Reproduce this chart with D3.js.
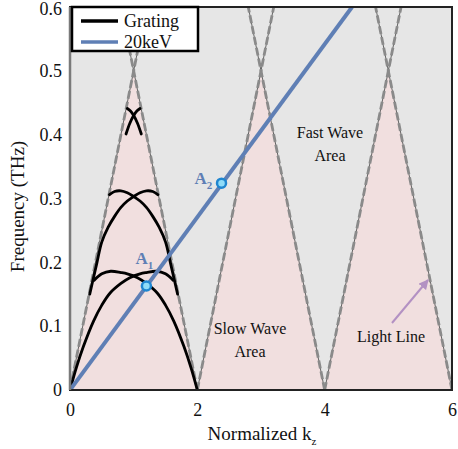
<!DOCTYPE html>
<html>
<head>
<meta charset="utf-8">
<script src="https://cdn.jsdelivr.net/npm/d3@7"></script>
<style>
    body { margin: 0; background: white; }
    svg text { font-family: "Liberation Serif", "DejaVu Serif", serif !important; }
</style>
</head>
<body>
<svg id="chart" width="458" height="449"></svg>
<script>
// axis ticks
const xTicks = [0, 2, 4, 6];
const yTicks = [0, 0.1, 0.2, 0.3, 0.4, 0.5, 0.6];

// light line: zero points and apex frequency
const lightLineZeros = [0, 2, 4, 6];
const lightApex = 0.5;
const lightTop = 0.6;

// slow wave triangles (k start, apex k, k end)
const slowTriangles = [[0, 1, 2], [2, 3, 4], [4, 5, 6]];

// 20keV electron beam line
const beamLine = [[0, 0], [4.43, 0.6]];

// grating dispersion curves [k, f]
const gratingS = [[0, 0], [0.1, 0.035], [0.21, 0.068], [0.37, 0.108], [0.5, 0.133], [0.63, 0.152], [0.8, 0.167],
    [0.94, 0.176], [1.1, 0.182], [1.2, 0.184], [1.36, 0.186], [1.5, 0.182], [1.62, 0.172]];
const gratingT = [[2, 0], [1.9, 0.035], [1.79, 0.068], [1.63, 0.108], [1.5, 0.133], [1.37, 0.152], [1.2, 0.167],
    [1.06, 0.176], [0.9, 0.182], [0.8, 0.184], [0.64, 0.186], [0.5, 0.182], [0.38, 0.172]];
const gratingP = [[1.38, 0.306], [1.3, 0.311], [1.2, 0.312], [1.1, 0.309], [1.0, 0.303], [0.9, 0.296], [0.8, 0.286],
    [0.7, 0.272], [0.6, 0.255], [0.5, 0.232], [0.42, 0.198], [0.36, 0.172], [0.31, 0.15]];
const gratingQ = [[0.62, 0.306], [0.7, 0.311], [0.8, 0.312], [0.9, 0.309], [1.0, 0.303], [1.1, 0.296], [1.2, 0.286],
    [1.3, 0.272], [1.4, 0.255], [1.5, 0.232], [1.58, 0.198], [1.64, 0.172], [1.69, 0.15]];
const gratingU = [[0.9, 0.441], [0.95, 0.437], [1.0, 0.43], [1.06, 0.418], [1.12, 0.401]];
const gratingV = [[1.1, 0.441], [1.05, 0.437], [1.0, 0.43], [0.94, 0.418], [0.88, 0.401]];
const gratingCurves = [gratingS, gratingT, gratingP, gratingQ, gratingU, gratingV];

// interaction points
const points = [
    {name: "A", sub: "1", k: 1.2, f: 0.163},
    {name: "A", sub: "2", k: 2.38, f: 0.324}
];

const margin = {left: 70, top: 7, right: 5, bottom: 59};
const width = 458, height = 449;
const serif = '"Liberation Serif", serif';

const svg = d3.select("#chart");

const x = d3.scaleLinear().domain([0, 6]).range([margin.left, width - margin.right - 1]);
const y = d3.scaleLinear().domain([0, 0.6]).range([height - margin.bottom, margin.top]);

const line = d3.line().x(d => x(d[0])).y(d => y(d[1]));
const curve = d3.line().x(d => x(d[0])).y(d => y(d[1])).curve(d3.curveCatmullRom);

svg.append("clipPath")
    .attr("id", "plotClip")
    .append("rect")
    .attr("x", x(0)).attr("y", y(0.6))
    .attr("width", x(6) - x(0)).attr("height", y(0) - y(0.6));

// fast wave background
svg.append("rect")
    .attr("x", x(0)).attr("y", y(0.6))
    .attr("width", x(6) - x(0)).attr("height", y(0) - y(0.6))
    .attr("fill", "#e6e6e6");

const plot = svg.append("g").attr("clip-path", "url(#plotClip)");

// slow wave areas
plot.selectAll(".slow")
    .data(slowTriangles)
    .enter()
    .append("path")
    .attr("class", "slow")
    .attr("d", d => line([[d[0], 0], [d[1], lightApex], [d[2], 0]]) + "Z")
    .attr("fill", "#f1dfdf");

// light lines going up both ways from each zero
const lightSegs = [];
lightLineZeros.forEach(k0 => {
    const dk = lightTop / lightApex;
    lightSegs.push([[k0, 0], [k0 - dk, lightTop]]);
    lightSegs.push([[k0, 0], [k0 + dk, lightTop]]);
});

plot.selectAll(".lightCore")
    .data(lightSegs)
    .enter()
    .append("path")
    .attr("d", line)
    .attr("fill", "none")
    .attr("stroke", "#555")
    .attr("stroke-width", 0.9);

plot.selectAll(".lightDash")
    .data(lightSegs)
    .enter()
    .append("path")
    .attr("d", line)
    .attr("fill", "none")
    .attr("stroke", "#8a8a8a")
    .attr("stroke-width", 2.8)
    .attr("stroke-dasharray", "8,3");

// grating curves
plot.selectAll(".grating")
    .data(gratingCurves)
    .enter()
    .append("path")
    .attr("d", curve)
    .attr("fill", "none")
    .attr("stroke", "black")
    .attr("stroke-width", 2.8)
    .attr("stroke-linecap", "round");

// beam line
plot.append("path")
    .attr("d", line(beamLine))
    .attr("fill", "none")
    .attr("stroke", "#5f7fb5")
    .attr("stroke-width", 4);

// frame
svg.append("rect")
    .attr("x", x(0)).attr("y", y(0.6))
    .attr("width", x(6) - x(0)).attr("height", y(0) - y(0.6))
    .attr("fill", "none")
    .attr("stroke", "#222")
    .attr("stroke-width", 2);
svg.append("line")
    .attr("x1", x(0)).attr("x2", x(0))
    .attr("y1", y(0.6)).attr("y2", y(0))
    .attr("stroke", "#7a7a7a")
    .attr("stroke-width", 2.5);

// markers and labels
svg.selectAll(".pt")
    .data(points)
    .enter()
    .append("circle")
    .attr("cx", d => x(d.k))
    .attr("cy", d => y(d.f))
    .attr("r", 4.5)
    .attr("fill", "#8fdcf8")
    .attr("stroke", "#1f86d0")
    .attr("stroke-width", 2.5);

const ptLabel = svg.selectAll(".ptLabel")
    .data(points)
    .enter()
    .append("text")
    .attr("x", d => d.sub == "2" ? x(d.k) - 27 : x(d.k) - 11)
    .attr("y", d => d.sub == "2" ? y(d.f) + 1 : y(d.f) - 22)
    .style("font-family", serif)
    .attr("font-size", 17)
    .attr("font-weight", "bold")
    .attr("fill", "#5f7fb5");
ptLabel.append("tspan").text(d => d.name);
ptLabel.append("tspan")
    .attr("font-size", 11)
    .attr("dy", 5)
    .text(d => d.sub);

// area annotations
const notes = [
    {x: 330, y: 138, t: "Fast Wave"},
    {x: 330, y: 161, t: "Area"},
    {x: 250, y: 334, t: "Slow Wave"},
    {x: 250, y: 357, t: "Area"},
    {x: 391, y: 342, t: "Light Line"}
];
svg.selectAll(".note")
    .data(notes)
    .enter()
    .append("text")
    .attr("x", d => d.x)
    .attr("y", d => d.y)
    .attr("text-anchor", "middle")
    .style("font-family", serif)
    .attr("font-size", 16)
    .attr("fill", "#111")
    .text(d => d.t);

svg.append("defs").append("marker")
    .attr("id", "arrowHead")
    .attr("viewBox", "0 0 10 10")
    .attr("refX", 9).attr("refY", 5)
    .attr("markerWidth", 5).attr("markerHeight", 5)
    .attr("orient", "auto")
    .append("path")
    .attr("d", "M0,0L10,5L0,10Z")
    .attr("fill", "#b391c3");
svg.append("line")
    .attr("x1", 392).attr("y1", 323)
    .attr("x2", 428).attr("y2", 280)
    .attr("stroke", "#b391c3")
    .attr("stroke-width", 2)
    .attr("marker-end", "url(#arrowHead)");

// axes (labels only)
const xAxis = svg.append("g")
    .attr("transform", `translate(0,${y(0)})`)
    .call(d3.axisBottom(x).tickValues(xTicks).tickSize(0).tickPadding(13).tickFormat(d3.format("d")));
const yAxis = svg.append("g")
    .attr("transform", `translate(${x(0)},0)`)
    .call(d3.axisLeft(y).tickValues(yTicks).tickSize(0).tickPadding(8).tickFormat(d => d == 0 ? "0" : d3.format(".1f")(d)));
[xAxis, yAxis].forEach(a => {
    a.attr("font-family", null);
    a.select(".domain").remove();
    a.selectAll("text")
        .style("font-family", serif)
        .attr("font-size", 18)
        .attr("fill", "#111");
});
yAxis.selectAll(".tick").filter(d => d == 0.6).select("text").attr("dy", "0.42em");

svg.append("text")
    .attr("transform", `translate(24,${(y(0) + y(0.6)) / 2 + 8}) rotate(-90)`)
    .attr("text-anchor", "middle")
    .style("font-family", serif)
    .attr("font-size", 19)
    .attr("fill", "#111")
    .text("Frequency (THz)");

const xl = svg.append("text")
    .attr("x", 262)
    .attr("y", 440)
    .attr("text-anchor", "middle")
    .style("font-family", serif)
    .attr("font-size", 19)
    .attr("fill", "#111");
xl.append("tspan").text("Normalized k");
xl.append("tspan").attr("font-size", 11).attr("dy", 5).text("z");

// legend
const legend = svg.append("g");
legend.append("rect")
    .attr("x", 72).attr("y", 7)
    .attr("width", 126).attr("height", 44)
    .attr("fill", "white")
    .attr("stroke", "black")
    .attr("stroke-width", 2.5);
const legendItems = [
    {label: "Grating", color: "black"},
    {label: "20keV", color: "#5f7fb5"}
];
legendItems.forEach((d, i) => {
    legend.append("line")
        .attr("x1", 81).attr("x2", 118)
        .attr("y1", 21 + i * 21).attr("y2", 21 + i * 21)
        .attr("stroke", d.color)
        .attr("stroke-width", 3.5);
    legend.append("text")
        .attr("x", 124).attr("y", 27 + i * 21)
        .style("font-family", serif)
        .attr("font-size", 18)
        .attr("fill", "#111")
        .text(d.label);
});
</script>
</body>
</html>
